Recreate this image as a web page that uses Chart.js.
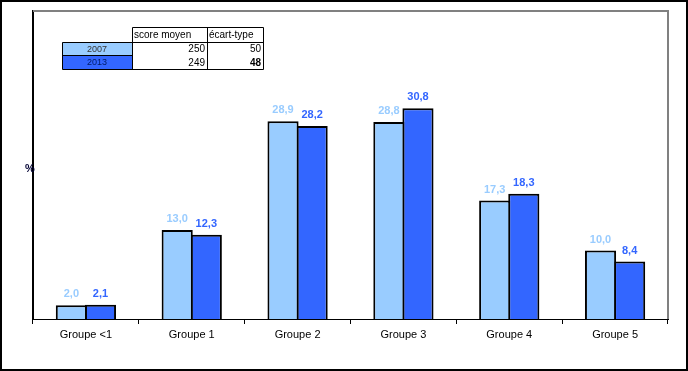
<!DOCTYPE html>
<html><head><meta charset="utf-8">
<script src="https://cdn.jsdelivr.net/npm/chart.js@4/dist/chart.umd.min.js"></script>
<style>html,body{margin:0;padding:0;background:#fff}#wrap{width:688px;height:371px}</style>
</head><body><div id="wrap"><canvas id="c" width="688" height="371"></canvas></div>
<script>
const categories = ["Groupe <1", "Groupe 1", "Groupe 2", "Groupe 3", "Groupe 4", "Groupe 5"];
const series2007 = [2.0, 13.0, 28.9, 28.8, 17.3, 10.0];
const series2013 = [2.1, 12.3, 28.2, 30.8, 18.3, 8.4];
const tableYears = ["2007", "2013"];
const tableScores = ["250", "249"];
const tableSD = ["50", "48"];
const tableHeaders = ["score moyen", "écart-type"];

const LIGHT = "#99CCFF", DARK = "#3366FF";
const FONT = "'Liberation Sans', Arial, sans-serif";

const fmt = v => v.toFixed(1).replace('.', ',');

const decor = {
  id: 'decor',
  afterDatasetsDraw(chart) {
    const ctx = chart.ctx, ca = chart.chartArea;
    ctx.save();
    // value labels
    ctx.font = "bold 11px " + FONT;
    ctx.textAlign = 'center';
    ctx.textBaseline = 'middle';
    chart.data.datasets.forEach((ds, i) => {
      const meta = chart.getDatasetMeta(i);
      meta.data.forEach((bar, j) => {
        ctx.fillStyle = i === 0 ? LIGHT : DARK;
        ctx.fillText(fmt(ds.data[j]), bar.x, bar.y - 11);
      });
    });
    // top and right gray frame
    ctx.strokeStyle = '#808080';
    ctx.lineWidth = 2;
    ctx.beginPath();
    ctx.moveTo(ca.left, ca.top); ctx.lineTo(ca.right, ca.top); ctx.lineTo(ca.right, ca.bottom);
    ctx.stroke();
    // % label
    ctx.fillStyle = '#000033';
    ctx.font = "bold 11px " + FONT;
    ctx.fillText('%', 30, 169);
    // table
    const x0 = 62, x1 = 132, x2 = 207, x3 = 263;
    const y0 = 27, y1 = 42, y2 = 55, y3 = 69;
    ctx.fillStyle = LIGHT; ctx.fillRect(x0, y1, x1 - x0, y2 - y1);
    ctx.fillStyle = DARK; ctx.fillRect(x0, y2, x1 - x0, y3 - y2);
    ctx.strokeStyle = '#000'; ctx.lineWidth = 1;
    ctx.beginPath();
    ctx.moveTo(x1 + .5, y0 + .5); ctx.lineTo(x3 + .5, y0 + .5);
    ctx.moveTo(x0 + .5, y1 + .5); ctx.lineTo(x3 + .5, y1 + .5);
    ctx.moveTo(x0 + .5, y2 + .5); ctx.lineTo(x1 + .5, y2 + .5);
    ctx.moveTo(x0 + .5, y3 + .5); ctx.lineTo(x3 + .5, y3 + .5);
    ctx.moveTo(x0 + .5, y1 + .5); ctx.lineTo(x0 + .5, y3 + .5);
    ctx.moveTo(x1 + .5, y0 + .5); ctx.lineTo(x1 + .5, y3 + .5);
    ctx.moveTo(x2 + .5, y0 + .5); ctx.lineTo(x2 + .5, y3 + .5);
    ctx.moveTo(x3 + .5, y0 + .5); ctx.lineTo(x3 + .5, y3 + .5);
    ctx.stroke();
    ctx.fillStyle = '#000';
    ctx.font = "10px " + FONT;
    ctx.textAlign = 'left';
    ctx.fillText(tableHeaders[0], x1 + 2, (y0 + y1) / 2 + 1);
    ctx.fillText(tableHeaders[1], x2 + 2, (y0 + y1) / 2 + 1);
    const rows = [[y1, y2], [y2, y3]];
    rows.forEach((r, i) => {
      const cy = (r[0] + r[1]) / 2 + 1;
      ctx.font = "9px " + FONT;
      ctx.textAlign = 'center';
      ctx.fillStyle = i === 0 ? '#333' : '#001a66';
      ctx.fillText(tableYears[i], (x0 + x1) / 2, cy);
      ctx.fillStyle = '#000';
      ctx.font = "10px " + FONT;
      ctx.textAlign = 'right';
      ctx.fillText(tableScores[i], x2 - 2, cy);
      ctx.font = (i === 1 ? "bold " : "") + "10px " + FONT;
      ctx.fillText(tableSD[i], x3 - 2, cy);
    });
    ctx.restore();
  },
  afterDraw(chart) {
    const ctx = chart.ctx;
    ctx.save();
    ctx.strokeStyle = '#000';
    ctx.lineWidth = 2;
    ctx.strokeRect(1, 1, 686, 369);
    ctx.restore();
  }
};

new Chart(document.getElementById('c'), {
  type: 'bar',
  data: {
    labels: categories,
    datasets: [
      { label: '2007', data: series2007, backgroundColor: LIGHT, borderColor: '#000', borderWidth: 2 },
      { label: '2013', data: series2013, backgroundColor: DARK, borderColor: '#000', borderWidth: 2 }
    ]
  },
  options: {
    responsive: false,
    animation: false,
    devicePixelRatio: 1,
    layout: { padding: { left: 0, top: 11, right: 20, bottom: 0 } },
    plugins: { legend: { display: false }, tooltip: { enabled: false } },
    datasets: { bar: { categoryPercentage: 0.55, barPercentage: 1.07 } },
    scales: {
      x: {
        grid: { display: true, drawOnChartArea: false, drawTicks: true, tickLength: 5, color: '#000', offset: true },
        border: { display: true, color: '#000', width: 1 },
        ticks: { color: '#000', font: { family: FONT, size: 11 }, padding: 4, maxRotation: 0 },
        afterFit(s) { s.height = 52; }
      },
      y: {
        min: 0, max: 45,
        grid: { display: false },
        border: { display: true, color: '#000', width: 2 },
        ticks: { display: false },
        afterFit(s) { s.width = 33; }
      }
    }
  },
  plugins: [decor]
});
</script>
</body></html>
